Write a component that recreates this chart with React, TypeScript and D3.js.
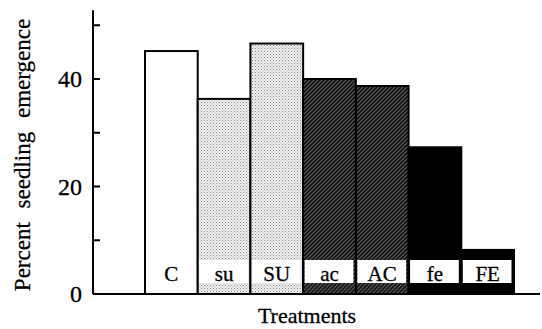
import React from "react";
import * as d3 from "d3";

const categories = ["C", "su", "SU", "ac", "AC", "fe", "FE"];
const values = [45.2, 36.3, 46.6, 40.0, 38.7, 27.3, 8.2];
const yTicks = [0, 20, 40];
const yMinorTicks = [10, 30, 50];
const yLabel = "Percent seedling emergence";
const xLabel = "Treatments";

const fillFor = ["white", "url(#dots)", "url(#dots)", "url(#hatch)", "url(#hatch)", "black", "black"];

export default function App() {
  const W = 542, H = 329;
  const x = d3.scaleBand<string>().domain(categories).range([145, 514]).padding(0);
  const y = d3.scaleLinear().domain([0, 40]).range([294, 79]);
  const axisX = 93;
  const font = "'Liberation Serif', 'Times New Roman', serif";
  const txt = { fontFamily: font, stroke: "black", strokeWidth: 0.3 } as const;
  return (
    <svg width={W} height={H} style={{ position: "absolute", left: 0, top: 0, background: "white" }}>
      <defs>
        <pattern id="dots" width="3" height="3" patternUnits="userSpaceOnUse">
          <rect width="3" height="3" fill="#f0f0f0" />
          <rect x="0" y="0" width="1" height="1" fill="#888" />
          <rect x="1.5" y="1.5" width="1" height="1" fill="#aaa" />
        </pattern>
        <pattern id="hatch" width="4" height="4" patternUnits="userSpaceOnUse">
          <rect width="4" height="4" fill="#606060" />
          <path d="M-1,1 l2,-2 M0,4 l4,-4 M3,5 l2,-2" stroke="#111" strokeWidth="1.7" />
        </pattern>
      </defs>
      {categories.map((c, i) => {
        const x0 = x(c)!;
        const bw = x.bandwidth();
        return (
          <g key={c}>
            <rect x={x0} y={y(values[i])} width={bw} height={y(0) - y(values[i])}
              fill={fillFor[i]} stroke="black" strokeWidth={2} />
            {i > 0 && (
              <rect x={x0 + 1.5} y={260} width={bw - 4} height={23} fill="white" />
            )}
            <text x={x0 + bw / 2} y={281} textAnchor="middle" fontSize={21} {...txt}>{c}</text>
          </g>
        );
      })}
      <line x1={axisX} x2={axisX} y1={y(52.8)} y2={y(0)} stroke="black" strokeWidth={2} />
      <line x1={axisX} x2={540} y1={y(0)} y2={y(0)} stroke="black" strokeWidth={2} />
      {yTicks.concat(yMinorTicks).map((t) => (
        <line key={"t" + t} x1={axisX} x2={axisX + 7} y1={y(t)} y2={y(t)} stroke="black" strokeWidth={2} />
      ))}
      {yTicks.map((t) => (
        <text key={"l" + t} x={82} y={y(t)} dy="0.35em" textAnchor="end" fontSize={24} {...txt}>{t}</text>
      ))}
      <text transform={`translate(30,155) rotate(-90)`} textAnchor="middle" fontSize={23} wordSpacing={8} {...txt}>{yLabel}</text>
      <text x={307} y={323} textAnchor="middle" fontSize={22} {...txt}>{xLabel}</text>
    </svg>
  );
}
